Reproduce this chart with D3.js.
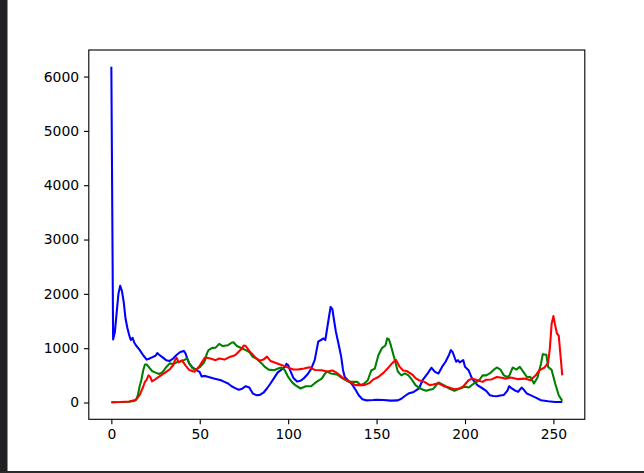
<!DOCTYPE html>
<html>
<head>
<meta charset="utf-8">
<script src="https://cdn.jsdelivr.net/npm/d3@7"></script>
<style>
  html, body { margin: 0; padding: 0; background: #fff; }
  svg { display: block; }
  text { font-family: "DejaVu Sans", sans-serif; }
</style>
</head>
<body>
<svg id="chart" width="644" height="473"></svg>
<script>
// ---- data (pixel-intensity histogram) ----
const xTicks = [0, 50, 100, 150, 200, 250];
const yTicks = [0, 1000, 2000, 3000, 4000, 5000, 6000];
const binCount = 256;

const blueHist = [[0,6180],[1,1160],[2,1300],[3,1650],[4,2000],[5,2150],[6,2050],[7,1850],[8,1550],[9,1380],[10,1250],[11,1150],[12,1190],[13,1100],[14,1050],[16,970],[18,870],[20,790],[21,800],[23,830],[25,860],[26,910],[27,880],[29,830],[31,780],[33,765],[35,810],[37,880],[39,930],[41,950],[42,900],[43,800],[44,720],[46,640],[48,600],[50,560],[51,480],[53,490],[55,470],[58,440],[62,410],[64,380],[66,350],[68,300],[70,265],[72,235],[74,255],[76,300],[78,275],[80,165],[82,135],[84,140],[86,180],[88,258],[90,350],[92,450],[94,550],[96,600],[98,650],[99,710],[100,690],[101,600],[103,450],[105,385],[107,400],[109,450],[111,520],[113,620],[115,780],[117,1120],[119,1160],[120,1180],[121,1150],[123,1560],[124,1760],[125,1720],[126,1500],[127,1300],[128,1150],[129,1000],[130,840],[131,600],[132,470],[134,400],[136,340],[138,240],[140,130],[142,60],[144,40],[148,45],[150,50],[154,45],[158,35],[162,40],[164,70],[166,120],[168,165],[171,195],[174,258],[176,410],[179,540],[181,640],[183,565],[185,535],[187,655],[189,750],[191,880],[192,965],[193,930],[195,750],[196,780],[197,740],[199,780],[200,660],[202,595],[204,440],[207,320],[210,258],[212,215],[214,135],[216,120],[218,116],[220,130],[222,140],[224,220],[225,300],[226,270],[228,226],[230,195],[232,275],[233,245],[235,165],[237,135],[240,90],[243,42],[247,24],[251,11],[255,11]];

const greenHist = [[0,5],[5,8],[10,15],[13,30],[14,50],[15,135],[16,300],[17,420],[18,590],[19,700],[20,700],[21,660],[23,580],[25,550],[27,525],[29,560],[31,650],[33,720],[35,710],[37,740],[39,755],[41,780],[43,810],[44,720],[46,630],[48,605],[50,650],[52,720],[53,780],[54,900],[55,965],[57,1005],[59,1010],[61,1080],[63,1040],[66,1055],[68,1100],[69,1110],[71,1040],[74,995],[76,965],[78,930],[80,840],[82,810],[85,720],[87,650],[89,605],[92,595],[94,620],[96,645],[98,600],[100,470],[102,380],[104,320],[107,258],[110,300],[113,300],[116,380],[119,440],[121,540],[122,570],[124,535],[126,525],[128,510],[130,460],[132,420],[134,385],[136,380],[139,380],[141,320],[143,350],[145,410],[147,590],[149,625],[151,870],[153,1000],[155,1050],[156,1180],[157,1160],[158,1060],[160,820],[162,570],[164,500],[166,535],[168,500],[170,420],[172,320],[174,270],[176,240],[178,215],[180,235],[182,250],[185,368],[188,320],[191,258],[194,215],[197,258],[200,290],[202,275],[205,350],[208,410],[210,500],[212,500],[214,535],[216,595],[218,645],[220,607],[222,500],[224,470],[225,490],[227,645],[229,607],[231,655],[233,565],[235,470],[237,470],[239,350],[241,460],[243,720],[244,890],[246,880],[247,655],[249,600],[251,350],[253,135],[255,30]];

const redHist = [[0,5],[5,10],[10,20],[13,40],[14,55],[16,135],[18,290],[19,380],[20,420],[21,500],[22,470],[23,390],[25,430],[27,475],[30,540],[33,610],[35,690],[36,780],[37,820],[38,740],[40,775],[42,680],[44,600],[47,565],[50,680],[53,830],[56,810],[59,780],[61,810],[64,790],[67,840],[70,870],[73,965],[75,1050],[76,1040],[78,950],[80,880],[82,810],[84,770],[86,790],[88,845],[90,765],[92,740],[95,705],[98,670],[101,630],[103,607],[106,610],[109,625],[112,650],[115,600],[119,595],[122,570],[125,590],[128,535],[131,450],[135,380],[138,320],[143,320],[146,360],[148,420],[151,470],[154,550],[157,655],[159,730],[161,785],[163,660],[165,590],[167,580],[170,520],[172,450],[174,410],[177,380],[180,320],[182,330],[185,355],[188,300],[191,275],[194,245],[197,258],[199,295],[202,410],[204,440],[207,410],[210,380],[212,420],[215,425],[218,470],[220,460],[223,440],[226,460],[230,430],[234,440],[237,410],[240,500],[242,590],[245,645],[247,730],[248,1000],[249,1450],[250,1590],[251,1420],[252,1270],[253,1230],[254,870],[255,500]];

const series = [
  { name: "b", color: "#0000ff", values: blueHist },
  { name: "g", color: "#008000", values: greenHist },
  { name: "r", color: "#ff0000", values: redHist }
];

// ---- layout ----
const svg = d3.select("#chart");
const W = 644, H = 473;
const ax = { left: 88.8, right: 584.8, top: 50, bottom: 419.3 };

// page chrome seen in the screenshot
svg.append("rect").attr("x", 0).attr("y", 0).attr("width", W).attr("height", H).attr("fill", "#ffffff");
svg.append("rect").attr("x", 0).attr("y", 0).attr("width", 7.5).attr("height", H).attr("fill", "#202124");
svg.append("rect").attr("x", 0).attr("y", 471).attr("width", W).attr("height", 2).attr("fill", "#2b2b2b");

// matplotlib-style 5% margins
const xMin = 0, xMax = binCount - 1;
const xPad = (xMax - xMin) * 0.05;
const allVals = series.flatMap(s => s.values.map(d => d[1]));
const yMinD = 0, yMaxD = d3.max(allVals);
const yPad = (yMaxD - yMinD) * 0.05;

const x = d3.scaleLinear().domain([xMin - xPad, xMax + xPad]).range([ax.left, ax.right]);
const y = d3.scaleLinear().domain([yMinD - yPad, yMaxD + yPad]).range([ax.bottom, ax.top]);

// clip
svg.append("defs").append("clipPath").attr("id", "clip")
  .append("rect").attr("x", ax.left).attr("y", ax.top)
  .attr("width", ax.right - ax.left).attr("height", ax.bottom - ax.top);

const line = d3.line().x(d => x(d[0])).y(d => y(d[1]));

const plot = svg.append("g").attr("clip-path", "url(#clip)");
series.forEach(s => {
  plot.append("path")
    .datum(s.values)
    .attr("fill", "none")
    .attr("stroke", s.color)
    .attr("stroke-width", 2.08)
    .attr("stroke-linejoin", "round")
    .attr("stroke-linecap", "butt")
    .attr("d", line);
});

// axes
const fontSize = "13.9px";
const tickLen = 4.86, tickPad = 4.86;

const xAxis = d3.axisBottom(x).tickValues(xTicks).tickSize(tickLen).tickPadding(tickPad).tickFormat(d3.format("d"));
const yAxis = d3.axisLeft(y).tickValues(yTicks).tickSize(tickLen).tickPadding(tickPad).tickFormat(d3.format("d"));

const gx = svg.append("g").attr("transform", `translate(0,${ax.bottom})`).call(xAxis);
const gy = svg.append("g").attr("transform", `translate(${ax.left},0)`).call(yAxis);

[gx, gy].forEach(g => {
  g.select(".domain").remove();
  g.selectAll(".tick line").attr("stroke", "#000").attr("stroke-width", 1.11);
  g.selectAll(".tick text").attr("fill", "#000").style("font-size", fontSize)
    .style("font-family", "'DejaVu Sans', sans-serif");
});
gx.selectAll(".tick text").attr("dy", "0.75em");

// spines
svg.append("rect")
  .attr("x", ax.left).attr("y", ax.top)
  .attr("width", ax.right - ax.left).attr("height", ax.bottom - ax.top)
  .attr("fill", "none").attr("stroke", "#000").attr("stroke-width", 1.11);
</script>
</body>
</html>
